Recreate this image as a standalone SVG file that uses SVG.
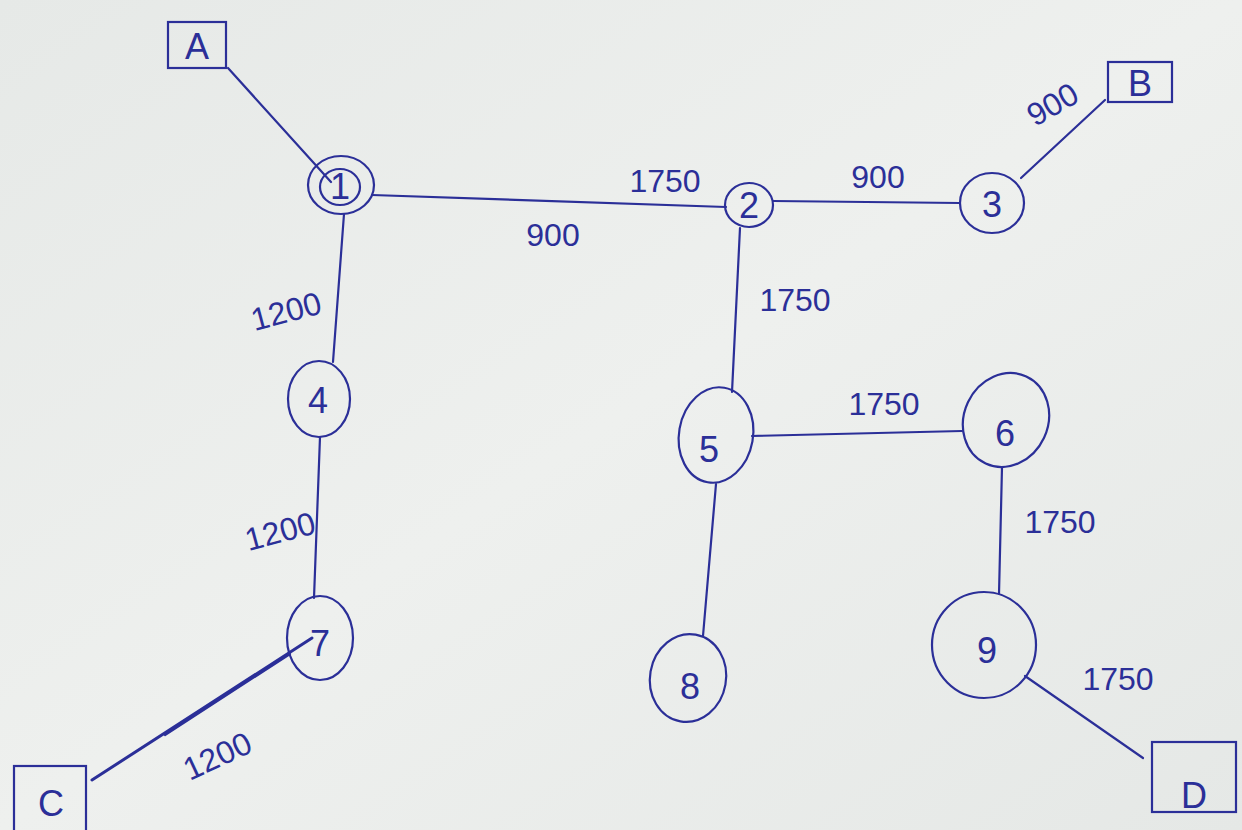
<svg xmlns="http://www.w3.org/2000/svg" width="1242" height="830" viewBox="0 0 1242 830">
<defs>
<linearGradient id="paper" x1="0" y1="0" x2="1" y2="1">
<stop offset="0" stop-color="#e6e9e7"/>
<stop offset="0.5" stop-color="#eef0ee"/>
<stop offset="1" stop-color="#e5e8e6"/>
</linearGradient>
<style>
.ink{fill:none;stroke:#2b2f98;stroke-width:2.2;stroke-linecap:round}
.lbl{font-family:"Liberation Sans",Arial,sans-serif;fill:#2b2f98;text-anchor:middle}
.num{font-size:32px}
.nd{font-size:36px}
</style>
</defs>
<rect width="1242" height="830" fill="url(#paper)"/>
<g id="connectors">
<line class="ink" x1="228" y1="68" x2="331" y2="182"/>
<line class="ink" x1="372" y1="195" x2="726" y2="207"/>
<line class="ink" x1="773" y1="201" x2="960" y2="203"/>
<line class="ink" x1="1021" y1="178" x2="1105" y2="100"/>
<line class="ink" x1="344" y1="214" x2="333" y2="362"/>
<line class="ink" x1="320" y1="437" x2="314" y2="598"/>
<line class="ink" x1="312" y1="638" x2="92" y2="780" style="stroke-width:3"/>
<line class="ink" x1="290" y1="654" x2="165" y2="735"/>
<line class="ink" x1="740" y1="228" x2="732" y2="392"/>
<line class="ink" x1="752" y1="436" x2="962" y2="431"/>
<line class="ink" x1="716" y1="484" x2="703" y2="636"/>
<line class="ink" x1="1002" y1="467" x2="999" y2="594"/>
<line class="ink" x1="1025" y1="676" x2="1143" y2="758"/>
<text class="lbl num" x="665" y="192">1750</text>
<text class="lbl num" x="553" y="246">900</text>
<text class="lbl num" x="878" y="188">900</text>
<text class="lbl num" transform="translate(1058,114) rotate(-30)">900</text>
<text class="lbl num" x="795" y="311">1750</text>
<text class="lbl num" x="884" y="415">1750</text>
<text class="lbl num" x="1060" y="533">1750</text>
<text class="lbl num" x="1118" y="690">1750</text>
<text class="lbl num" transform="translate(289,322) rotate(-15)">1200</text>
<text class="lbl num" transform="translate(283,542) rotate(-15)">1200</text>
<text class="lbl num" transform="translate(222,766) rotate(-25)">1200</text>
</g>
<g id="node-A"><rect class="ink" x="168" y="22" width="58" height="46"/><text class="lbl nd" x="197" y="59">A</text></g>
<g id="node-B"><rect class="ink" x="1108" y="62" width="64" height="40"/><text class="lbl nd" x="1140" y="96">B</text></g>
<g id="node-C"><rect class="ink" x="14" y="766" width="72" height="70"/><text class="lbl nd" x="51" y="816">C</text></g>
<g id="node-D"><rect class="ink" x="1152" y="742" width="84" height="70"/><text class="lbl nd" x="1194" y="808">D</text></g>
<g id="node-1"><ellipse class="ink" cx="341" cy="185" rx="33" ry="29"/><ellipse class="ink" cx="340" cy="187" rx="20" ry="18"/><text class="lbl nd" x="340" y="199">1</text></g>
<g id="node-2"><ellipse class="ink" cx="749" cy="205" rx="24" ry="22"/><text class="lbl nd" x="749" y="218">2</text></g>
<g id="node-3"><ellipse class="ink" cx="992" cy="203" rx="32" ry="30"/><text class="lbl nd" x="992" y="217">3</text></g>
<g id="node-4"><ellipse class="ink" cx="319" cy="399" rx="31" ry="38"/><text class="lbl nd" x="318" y="413">4</text></g>
<g id="node-5"><ellipse class="ink" cx="716" cy="435" rx="37" ry="48" transform="rotate(10 716 435)"/><text class="lbl nd" x="709" y="462">5</text></g>
<g id="node-6"><ellipse class="ink" cx="1006" cy="420" rx="42" ry="48" transform="rotate(25 1006 420)"/><text class="lbl nd" x="1005" y="446">6</text></g>
<g id="node-7"><ellipse class="ink" cx="320" cy="638" rx="33" ry="42"/><text class="lbl nd" x="320" y="656">7</text></g>
<g id="node-8"><ellipse class="ink" cx="688" cy="678" rx="38" ry="44" transform="rotate(10 688 678)"/><text class="lbl nd" x="690" y="699">8</text></g>
<g id="node-9"><ellipse class="ink" cx="984" cy="645" rx="52" ry="53"/><text class="lbl nd" x="987" y="663">9</text></g>
</svg>
